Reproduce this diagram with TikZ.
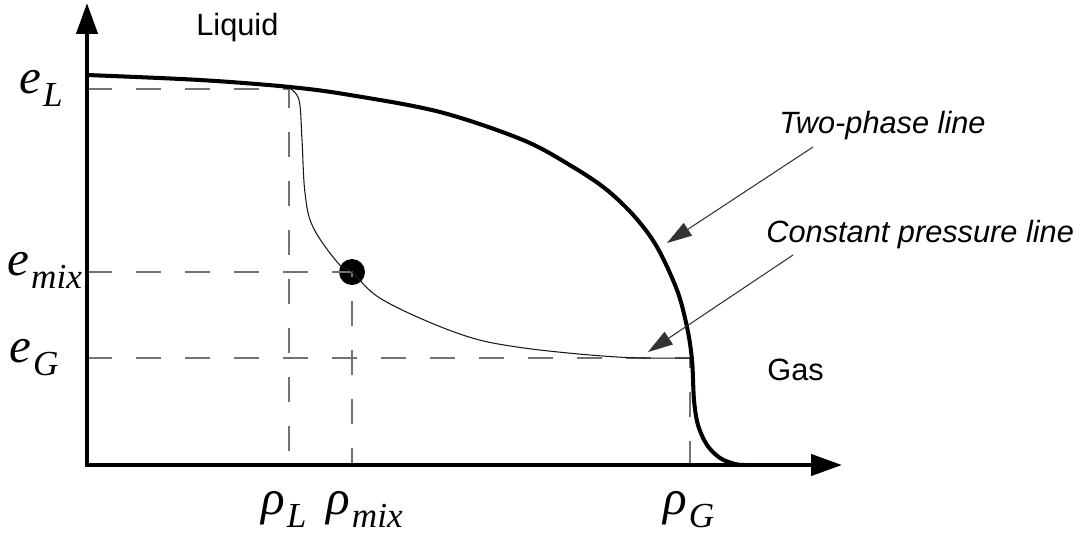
\documentclass[tikz,border=0pt]{standalone}
\usepackage{fontspec}
\setmainfont{Liberation Sans}
\newfontfamily\labfont{Liberation Serif}
\usetikzlibrary{arrows.meta}
\newcommand{\symlab}[2]{{\labfont\itshape\fontsize{28pt}{32pt}\selectfont #1\kern0.04cm\raisebox{-0.26cm}{\fontsize{20pt}{23pt}\selectfont #2}}}

\begin{document}
\begin{tikzpicture}[x=0.02cm,y=-0.02cm,
  axisline/.style={line width=2.5pt,{Triangle[length=0.62cm,width=0.42cm]}-{Triangle[length=0.62cm,width=0.42cm]}},
  phaseline/.style={line width=2.3pt,line join=round},
  isobar/.style={line width=0.6pt,black!90},
  guide/.style={line width=0.7pt,black!55,dash pattern=on 0.5cm off 0.48cm},
  pointer/.style={line width=0.6pt,black!80,-{Triangle[length=0.5cm,width=0.3cm]}},
  txt/.style={inner sep=0pt,font=\fontsize{17.5pt}{20pt}\selectfont},
  note/.style={inner sep=0pt,font=\fontsize{17.5pt}{20pt}\selectfont\itshape},
  sym/.style={inner sep=0pt,anchor=base west},
  dotmark/.style={circle,fill,inner sep=0pt,minimum size=0.52cm}]

  \useasboundingbox (0,0) rectangle (1084,535);
  \coordinate (O) at (87,465);
  \coordinate (ytip) at (87,3);
  \coordinate (xtip) at (842,465);
  \coordinate (L) at (289,89);
  \coordinate (G) at (690,358);
  \node[dotmark] (mix) at (352,272) {};

  % guide lines
  \draw[guide] (L -| O) -- (L) -- (L |- O);
  \draw[guide] (mix -| O) -- (mix.center) -- (mix |- O);
  \draw[guide] (G -| O) -- (G) -- (G |- O);

  % axes
  \draw[axisline] (ytip) |- (xtip);

  % two-phase line
  \draw[phaseline] plot[smooth,tension=0.55] coordinates {(87,75) (200,80) (290,87) (350,95) (440,112)
    (523,140) (573,167) (607,190) (635,217) (657,247) (677,290) (687,327) (692,360) (694,400)
    (698,425) (707,445) (720,458) (735,464) (745,465)};

  % constant pressure line
  \draw[isobar] plot[smooth,tension=0.6] coordinates {(289,88) (299,100) (302,140) (305,193) (313,227)
    (338,263) (352,272) (383,300) (457,333) (517,347) (617,357) (690,358)};

  % labels
  \node[txt,anchor=base west] (liquid) at (196,35) {Liquid};
  \node[txt,anchor=base west] (gas) at (767,380) {Gas};
  \node[note,anchor=base west] (twophase) at (779,133) {Two-phase line};
  \node[note,anchor=base west] (constp) at (766,242) {Constant pressure line};

  \coordinate (tpfrom) at (813,147);
  \coordinate (tpto) at (667,243);
  \coordinate (cpfrom) at (793,255);
  \coordinate (cpto) at (648,352);
  \draw[pointer] (tpfrom) -- (tpto);
  \draw[pointer] (cpfrom) -- (cpto);

  \node[sym] (eL) at (19,93) {\symlab{e}{L}};
  \node[sym] (emix) at (7,275) {\symlab{e}{mix}};
  \node[sym] (eG) at (9,362) {\symlab{e}{G}};
  \node[sym] (rL) at (261,514) {\symlab{ρ}{L}};
  \node[sym] (rmix) at (326,514) {\symlab{ρ}{mix}};
  \node[sym] (rG) at (663,514) {\symlab{ρ}{G}};
\end{tikzpicture}
\end{document}
